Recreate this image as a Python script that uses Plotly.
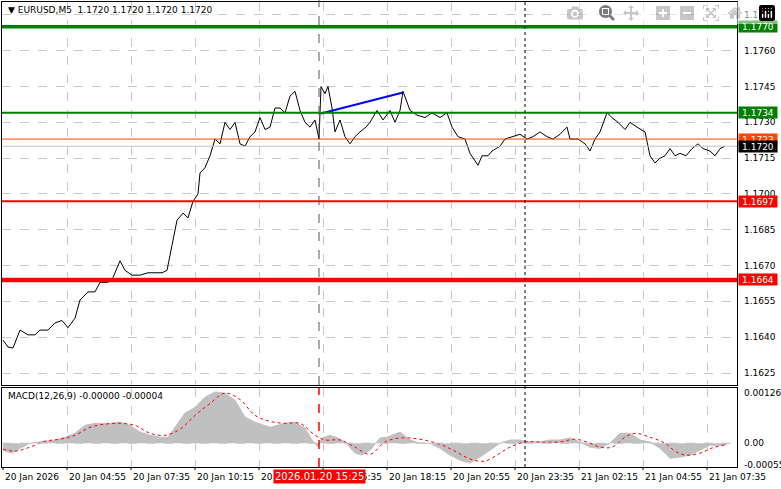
import plotly.graph_objects as go

# time axis in chart slots (2 slots per M5 bar)
t = [3, 8, 13, 20, 28, 35, 40, 48, 55, 62, 68, 75, 80, 88, 95, 100, 108, 113, 120, 125,
     132, 140, 148, 155, 162, 167, 172, 177, 183, 188, 193, 198, 200, 205, 210, 215, 220,
     225, 230, 235, 240, 245, 250, 255, 260, 265, 270, 275, 280, 285, 290, 295, 300, 305,
     310, 315, 319, 321, 325, 328, 332, 335, 340, 345, 350, 355, 360, 366, 370, 377, 383,
     390, 395, 400, 403, 410, 417, 425, 432, 440, 447, 452, 458, 465, 470, 475, 478, 482,
     488, 492, 500, 505, 512, 520, 527, 533, 540, 547, 553, 560, 567, 570, 578, 585, 590,
     595, 600, 607, 612, 618, 625, 630, 637, 645, 650, 655, 660, 665, 670, 675, 680, 686,
     692, 698, 703, 710, 715, 720, 725]
price = [1.16388, 1.16359, 1.16355, 1.1643, 1.1641, 1.1641, 1.1643, 1.1643, 1.1646, 1.1647,
         1.1644, 1.1648, 1.16556, 1.1659, 1.1659, 1.1663, 1.1663, 1.1665, 1.1672, 1.1668,
         1.1666, 1.1666, 1.1667, 1.1667, 1.1667, 1.1668, 1.1678, 1.1689, 1.1692, 1.1690,
         1.1697, 1.1700, 1.17088, 1.1711, 1.1716, 1.1723, 1.1721, 1.1730, 1.1727, 1.1730,
         1.1721, 1.1720, 1.1724, 1.1726, 1.1732, 1.1727, 1.1728, 1.1736, 1.1736, 1.1734,
         1.1741, 1.1743, 1.1735, 1.1730, 1.1728, 1.1731, 1.1723, 1.1745, 1.1742, 1.1745,
         1.1736, 1.1726, 1.1731, 1.1724, 1.1721, 1.1724, 1.1726, 1.1728, 1.1730, 1.1735,
         1.1731, 1.1735, 1.1730, 1.1735, 1.1743, 1.1735, 1.1733, 1.1732, 1.1734, 1.1732,
         1.1734, 1.1728, 1.1724, 1.1723, 1.1717, 1.1714, 1.1712, 1.1716, 1.1716, 1.1718,
         1.1720, 1.1723, 1.1724, 1.1725, 1.1723, 1.1724, 1.1726, 1.1724, 1.1723, 1.1725,
         1.1728, 1.1723, 1.1723, 1.1721, 1.1718, 1.1723, 1.1726, 1.1734, 1.1732, 1.1730,
         1.1727, 1.1730, 1.1728, 1.1726, 1.1716, 1.1713, 1.1715, 1.1716, 1.1719, 1.1716,
         1.1717, 1.1716, 1.1719, 1.1721, 1.1719, 1.1718, 1.1716, 1.1719, 1.1720]

t_hist = [3, 12, 20, 30, 40, 55, 65, 75, 85, 95, 110, 120, 130, 140, 150, 160, 168, 175,
          185, 195, 205, 215, 225, 235, 245, 255, 270, 285, 295, 305, 312, 318, 322, 330,
          338, 345, 350, 355, 362, 370, 380, 387, 400, 410, 420, 430, 440, 450, 460, 470,
          480, 490, 500, 510, 520, 530, 540, 550, 560, 570, 580, 590, 600, 610, 620, 630,
          640, 650, 660, 670, 680, 690, 700, 710, 720, 727]
macd = [-0.00018, -0.00025, -0.00013, 0.0, 0.00003, 0.00008, 0.00015, 0.00025, 0.00045,
        0.0005, 0.0005, 0.00053, 0.00045, 0.00028, 0.0002, 0.00015, 0.00015, 0.0004,
        0.00076, 0.0009, 0.00116, 0.00129, 0.00126, 0.00108, 0.00066, 0.00053, 0.0004,
        0.0005, 0.00053, 0.00038, 0.00008, -0.0001, 0.00013, 0.0002, 0.00013, 0.00003,
        -0.0001, -0.00025, -0.0003, -0.00018, 0.00013, 0.00015, 0.00028, 0.00008, 0.0,
        0.0, -0.00013, -0.0003, -0.00043, -0.0005, -0.00035, -0.00018, 0.0, 0.00008,
        0.00008, 0.00003, 0.00003, 0.00008, 0.00008, 0.00013, 0.00003, -0.0001, -0.00013,
        0.0, 0.00025, 0.00025, 0.00008, 0.00003, -0.00013, -0.00038, -0.00035, -0.0003,
        -0.00018, -0.00005, -0.00005, -0.00004]

t_sig = [3, 15, 30, 45, 60, 75, 90, 105, 120, 135, 150, 165, 180, 195, 210, 225, 240, 255,
         270, 285, 300, 315, 325, 340, 355, 370, 385, 400, 420, 440, 455, 470, 485, 500,
         510, 525, 540, 560, 575, 590, 600, 612, 625, 635, 650, 665, 675, 685, 700, 712, 725]
signal = [-0.00015, -0.0002, -0.0001, 0.00005, 0.0001, 0.0002, 0.0004, 0.00048, 0.0005,
          0.00045, 0.00025, 0.0002, 0.00035, 0.0007, 0.001, 0.00126, 0.0011, 0.0007,
          0.00055, 0.0005, 0.0005, 0.0002, 0.00008, 0.00008, -0.0001, -0.00028, 0.00003,
          0.00013, 0.0001, -0.00003, -0.0002, -0.0004, -0.00045, -0.00025, -0.0001,
          0.00003, 0.00003, 0.00003, 0.0001, 0.0, -0.0001, -0.0001, 0.00015, 0.00025,
          0.00015, 0.0, -0.0002, -0.0003, -0.00025, -0.00012, -0.00004]

tick_pos = [3, 67, 131, 195, 259, 323, 387, 451, 515, 579, 643, 707]
tick_text = ["20 Jan 2026", "20 Jan 04:55", "20 Jan 07:35", "20 Jan 10:15", "20 Jan 12:55",
             "20 Jan 15:35", "20 Jan 18:15", "20 Jan 20:55", "20 Jan 23:35", "21 Jan 02:15",
             "21 Jan 04:55", "21 Jan 07:35"]
price_ticks = [1.1775, 1.1760, 1.1745, 1.1730, 1.1715, 1.1700, 1.1685, 1.1670, 1.1655, 1.1640, 1.1625]
levels = [(1.1770, "#008000", 3.5), (1.1734, "#008000", 2), (1.1697, "#ff0000", 2), (1.1664, "#ff0000", 4.5)]
tags = [(1.1770, "#008000"), (1.1734, "#008000"), (1.1723, "#ff4500"),
        (1.1720, "#000000"), (1.1697, "#ff0000"), (1.1664, "#ff0000")]
trend_t = [321, 403]
trend_p = [1.17337, 1.17425]

W, H = 781, 489
X0, X1 = 2, 737
FONT = "DejaVu Sans"
FS = 9

fig = go.Figure()
fig.add_trace(go.Scatter(x=t_hist, y=macd, mode="lines", fill="tozeroy", fillcolor="#c0c0c0",
                         line=dict(color="#c0c0c0", width=1), xaxis="x2", yaxis="y2"))
fig.add_trace(go.Scatter(x=t_sig, y=signal, mode="lines", line=dict(color="red", width=1, dash="dot"),
                         line_shape="spline", xaxis="x2", yaxis="y2"))
fig.add_trace(go.Scatter(x=t, y=price, mode="lines", line=dict(color="black", width=1)))
fig.add_trace(go.Scatter(x=trend_t, y=trend_p, mode="lines", line=dict(color="#0000ff", width=2)))

shapes = []
for y, c, w in levels:
    shapes.append(dict(type="line", xref="x", yref="y", x0=X0, x1=X1, y0=y, y1=y, line=dict(color=c, width=w)))
shapes.append(dict(type="line", xref="x", yref="y", x0=X0, x1=X1, y0=1.1723, y1=1.1723, line=dict(color="#ff4500", width=1)))
shapes.append(dict(type="line", xref="x", yref="y", x0=X0, x1=X1, y0=1.1720, y1=1.1720, line=dict(color="#c0c0c0", width=1)))
shapes.append(dict(type="line", xref="x", yref="paper", x0=319, x1=319, y0=1 - 385 / H, y1=1,
                   line=dict(color="#555555", width=1, dash="dash")))
shapes.append(dict(type="line", xref="x", yref="paper", x0=319, x1=319, y0=1 - 467 / H, y1=1 - 388 / H,
                   line=dict(color="red", width=1.5, dash="dash")))
shapes.append(dict(type="line", xref="x", yref="paper", x0=525, x1=525, y0=1 - 467 / H, y1=1,
                   line=dict(color="black", width=1, dash="dot")))
shapes.append(dict(type="line", xref="x2", yref="y2", x0=X0, x1=X1, y0=0, y1=0,
                   line=dict(color="#c0c0c0", width=1, dash="dash")))
for p in tick_pos:
    shapes.append(dict(type="line", xref="x", yref="paper", x0=p, x1=p, y0=1 - 470 / H, y1=1 - 467 / H,
                       line=dict(color="black", width=1)))

ann = [dict(text="▼ EURUSD,M5  1.1720 1.1720 1.1720 1.1720", x=6 / W, y=1 - 10 / H, xref="paper", yref="paper",
            xanchor="left", yanchor="middle", showarrow=False, font=dict(size=FS, family=FONT, color="black")),
       dict(text="MACD(12,26,9) -0.00000 -0.00004", x=6 / W, y=1 - 396 / H, xref="paper", yref="paper",
            xanchor="left", yanchor="middle", showarrow=False, font=dict(size=FS, family=FONT, color="black"))]
for p, s in zip(tick_pos, tick_text):
    ann.append(dict(text=s, x=p, y=1 - 477 / H, xref="x", yref="paper", xanchor="left", yanchor="middle",
                    showarrow=False, font=dict(size=FS, family=FONT, color="black")))
for p in price_ticks:
    ann.append(dict(text=f"{p:.4f}", x=742 / W, y=p, xref="paper", yref="y", xanchor="left", yanchor="middle",
                    showarrow=False, font=dict(size=FS, family=FONT, color="black")))
for y, bg in tags:
    ann.append(dict(text=f"{y:.4f}", x=738 / W, y=y, xref="paper", yref="y", xanchor="left", yanchor="middle",
                    showarrow=False, bgcolor=bg, width=38, height=11, borderpad=0,
                    font=dict(size=FS, family=FONT, color="white")))
for v, s in [(0.00126, "0.00126"), (0.0, "0.00"), (-0.00055, "-0.00055")]:
    ann.append(dict(text=s, x=742 / W, y=v, xref="paper", yref="y2", xanchor="left", yanchor="middle",
                    showarrow=False, font=dict(size=FS, family=FONT, color="black")))
ann.append(dict(text="2026.01.20 15:25", x=319, y=1 - 476 / H, xref="x", yref="paper", xanchor="center",
                yanchor="middle", showarrow=False, bgcolor="#ff0000", borderpad=1,
                font=dict(size=FS + 1, family=FONT, color="white")))

grid = dict(showgrid=True, gridcolor="#c8c8c8", griddash="dash", gridwidth=1)
frame = dict(showline=True, linecolor="black", linewidth=1, mirror=True, zeroline=False)
fig.update_layout(
    width=W, height=H, margin=dict(l=0, r=0, t=0, b=0), showlegend=False,
    paper_bgcolor="white", plot_bgcolor="white",
    xaxis=dict(domain=[X0 / W, X1 / W], range=[X0, X1], tickvals=tick_pos, showticklabels=False,
               ticks="", **grid, **frame),
    yaxis=dict(domain=[1 - 385 / H, 1 - 2 / H], range=[1.16200, 1.17804], tickvals=price_ticks,
               showticklabels=False, **grid, **frame),
    xaxis2=dict(domain=[X0 / W, X1 / W], range=[X0, X1], tickvals=tick_pos, showticklabels=False,
                anchor="y2", matches="x", **grid, **frame),
    yaxis2=dict(domain=[1 - 467 / H, 1 - 388 / H], range=[-0.0006, 0.00139], tickvals=[0.00126, 0.0, -0.00055],
                showticklabels=False, showgrid=False, anchor="x2", **frame),
    shapes=shapes, annotations=ann,
)
fig.write_html("out.html")

# drop the default page margin so the figure sits at the window's top-left corner
with open("out.html", encoding="utf-8") as f:
    page = f.read()
page = page.replace("<head>", "<head><style>body{margin:0;overflow:hidden}</style>", 1)
with open("out.html", "w", encoding="utf-8") as f:
    f.write(page)
